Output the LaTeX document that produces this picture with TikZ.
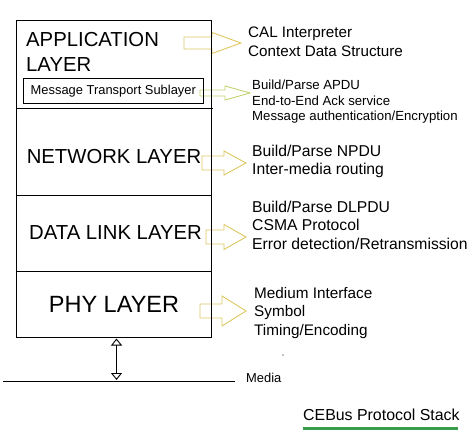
\documentclass[tikz,border=0pt]{standalone}
\usepackage{fontspec}
\setmainfont{Liberation Sans}
\usetikzlibrary{arrows.meta}
\definecolor{arrowyellow}{RGB}{222,198,96}
\definecolor{arrowgreen}{RGB}{196,212,112}
\definecolor{titlegreen}{RGB}{56,158,78}
\tikzset{
    layerbox/.style={draw, line width=1pt, minimum width=195, minimum height=#1, inner sep=0, outer sep=0},
    layerlabel/.style={font=\fontsize{20.3}{25}\selectfont, inner sep=0},
    funclist/.style={align=left, anchor=base west, inner sep=0},
    blockarrow/.style={line width=.9pt, line join=miter}
}
\begin{document}
\begin{tikzpicture}[x=1pt,y=-1pt]
            \useasboundingbox (0,0) rectangle (470,435);
            % hollow arrows from the layers to their functions
            \foreach \tail/\base/\tip/\y/\s/\h/\col in {184/212/241/43/6/10.5/arrowyellow,
                    200/225/250/93/3/7/arrowgreen, 202/224/246/163/7/12/arrowyellow,
                    206/224/246/237/7/12.5/arrowyellow, 200/222/246/311/7/15/arrowyellow}
                \draw[blockarrow,draw=\col] (\tail,\y-\s) -- (\base,\y-\s) -- (\base,\y-\h) -- (\tip,\y)
                    -- (\base,\y+\h) -- (\base,\y+\s) -- (\tail,\y+\s) -- cycle;

            % the stack
            \node[layerbox=88] (app) at (114,65) {};
            \node[layerbox=87] (net) at (114,152.5) {};
            \node[layerbox=75] (dll) at (114,233.5) {};
            \node[layerbox=66] (phy) at (114,304) {};
            \draw[line width=1pt] (app.south east) -- ++(1,0);

            % multi-line nodes sit on the baseline of their last line
            \node[layerlabel, align=left, anchor=base west] (applabel) at (26,72) {APPLICATION\\LAYER};
            \node[draw, line width=1pt, minimum width=180, minimum height=25, inner sep=0,
                font=\fontsize{12.9}{15}\selectfont] (mts) at (113.3,90.8) {Message Transport Sublayer};
            \node[layerlabel, anchor=base] (netlabel) at (114,164) {NETWORK LAYER};
            \node[layerlabel, anchor=base] (dlllabel) at (115.5,240) {DATA LINK LAYER};
            \node[layerlabel, anchor=base, font=\fontsize{23.5}{28}\selectfont] (phylabel) at (114,312) {PHY LAYER};

            % functions of each layer
            \node[funclist, font=\fontsize{15.2}{18.7}\selectfont] (appfunc) at (248,56.7)
                {CAL Interpreter\\Context Data Structure};
            \node[funclist, font=\fontsize{13.2}{15.4}\selectfont] (mtsfunc) at (252,120.8)
                {Build/Parse APDU\\End-to-End Ack service\\Message authentication/Encryption};
            \node[funclist, font=\fontsize{15.7}{18}\selectfont] (netfunc) at (252,175)
                {Build/Parse NPDU\\Inter-media routing};
            \node[funclist, font=\fontsize{15.7}{18.5}\selectfont] (dllfunc) at (252,249.3)
                {Build/Parse DLPDU\\CSMA Protocol\\Error detection/Retransmission};
            \node[funclist, font=\fontsize{15.3}{18.5}\selectfont] (phyfunc) at (254,335)
                {Medium Interface\\Symbol\\Timing/Encoding};
            \fill (283,355) circle (.6);

            % media
            \coordinate (mediaL) at (3,381);
            \coordinate (mediaR) at (235,381);
            \draw[line width=1pt] (mediaL) -- (mediaR);
            \node[funclist, font=\fontsize{12.9}{15}\selectfont] (media) at (246,382) {Media};
            \coordinate (phyport) at (116.5,338.5);
            \coordinate (mediaport) at (116.5,380);
            \draw[line width=.9pt, {Triangle[open,length=7,width=11]}-{Triangle[open,length=7,width=11]}] (phyport) -- (mediaport);

            % title
            \node[funclist, font=\fontsize{15.9}{19}\selectfont] (title) at (303,420.7) {CEBus Protocol Stack};
            \draw[titlegreen, line width=2.5pt] (303,428.3) -- (458,428.3);
\end{tikzpicture}
\end{document}
